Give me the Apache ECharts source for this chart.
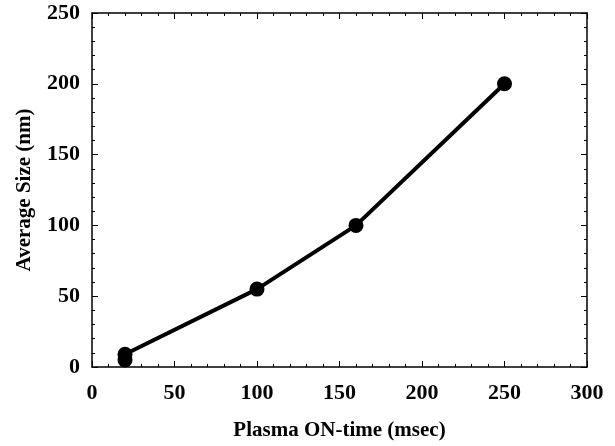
<!DOCTYPE html>
<html>
<head>
<meta charset="utf-8">
<script src="https://cdn.jsdelivr.net/npm/echarts@6/dist/echarts.min.js"></script>
<style>
  html, body { margin: 0; padding: 0; background: #fff; }
  #chart { width: 615px; height: 446px; }
</style>
</head>
<body>
<div id="chart"></div>
<script>
  // --- 数据 ---
  const onTime = [20, 20, 100, 160, 250]
  const avgSize = [5, 9, 55, 100, 200]
  const xTicks = [0, 50, 100, 150, 200, 250, 300]
  const yTicks = [0, 50, 100, 150, 200, 250]

  const font = 'Liberation Serif, Times New Roman, serif'
  const myChart = echarts.init(document.getElementById('chart'))

  // 四边框轴的共用样式
  const frameAxis = (extra) => Object.assign({
    type: 'value',
    interval: 50,
    axisLine: { show: true, onZero: false, lineStyle: { color: '#000', width: 1.5 } },
    axisTick: { show: true, inside: true, length: 6, lineStyle: { color: '#000', width: 1 } },
    minorTick: { show: true, splitNumber: 5, length: 3, lineStyle: { color: '#000', width: 1 } },
    splitLine: { show: false },
    axisLabel: { show: false }
  }, extra)

  const labelStyle = { show: true, color: '#000', fontFamily: font, fontWeight: 'bold', fontSize: 22, margin: 12 }
  const nameStyle = { color: '#000', fontFamily: font, fontWeight: 'bold', fontSize: 21 }

  const option = {
    backgroundColor: '#fff',
    animation: false,
    grid: { left: 92, right: 28, top: 13, bottom: 78 },
    xAxis: [
      frameAxis({
        position: 'bottom', min: xTicks[0], max: xTicks[xTicks.length - 1],
        axisLabel: Object.assign({}, labelStyle, { margin: 15 }),
        name: 'Plasma ON-time (msec)', nameLocation: 'middle', nameGap: 53, nameTextStyle: nameStyle
      }),
      frameAxis({ position: 'top', min: xTicks[0], max: xTicks[xTicks.length - 1] })
    ],
    yAxis: [
      frameAxis({
        position: 'left', min: yTicks[0], max: yTicks[yTicks.length - 1],
        axisLabel: labelStyle,
        name: 'Average Size (nm)', nameLocation: 'middle', nameGap: 57, nameTextStyle: nameStyle
      }),
      frameAxis({ position: 'right', min: yTicks[0], max: yTicks[yTicks.length - 1] })
    ],
    series: [{
      type: 'line',
      data: onTime.map((x, i) => [x, avgSize[i]]),
      symbol: 'circle',
      symbolSize: 15,
      lineStyle: { color: '#000', width: 4 },
      itemStyle: { color: '#000' }
    }]
  }

  myChart.setOption(option)
</script>
</body>
</html>
